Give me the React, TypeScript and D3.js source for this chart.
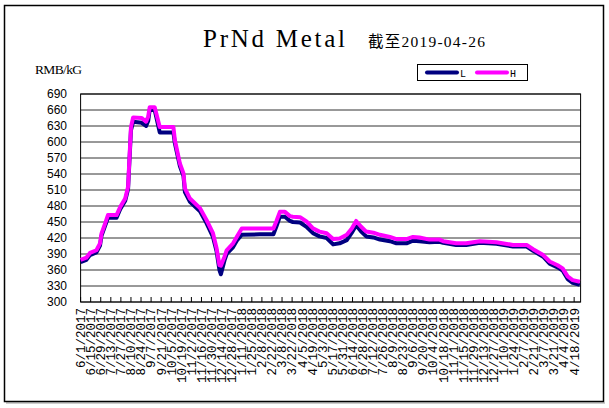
import React from "react";
import * as d3 from "d3";

const dates: string[] = [
  "2017-06-01","2017-06-09","2017-06-14","2017-06-23","2017-06-28","2017-06-30","2017-07-05","2017-07-09",
  "2017-07-21","2017-07-26","2017-08-02","2017-08-06","2017-08-10","2017-08-13","2017-08-25","2017-08-31",
  "2017-09-03","2017-09-05","2017-09-12","2017-09-19","2017-10-08","2017-10-10","2017-10-17","2017-10-22",
  "2017-10-24","2017-10-31","2017-11-14","2017-11-23","2017-12-02","2017-12-07","2017-12-11","2017-12-13",
  "2017-12-18","2017-12-21","2017-12-30","2018-01-04","2018-01-11","2018-02-05","2018-02-24","2018-02-28",
  "2018-03-05","2018-03-12","2018-03-19","2018-03-23","2018-04-02","2018-04-11","2018-04-20","2018-04-29",
  "2018-05-09","2018-05-18","2018-05-27","2018-06-06","2018-06-13","2018-06-19","2018-06-26","2018-07-03",
  "2018-07-13","2018-07-22","2018-08-05","2018-08-14","2018-08-28","2018-09-06","2018-09-15","2018-09-29",
  "2018-10-13","2018-10-18","2018-11-05","2018-11-19","2018-12-08","2018-12-31","2019-01-23","2019-02-11",
  "2019-02-20","2019-03-06","2019-03-15","2019-03-26","2019-04-02","2019-04-09","2019-04-16","2019-04-26",
];

const hValues: number[] = [
  379,383,392,397,410,428,447,463,
  463,478,494,516,628,646,645,638,
  648,665,665,628,628,604,560,541,
  513,494,476,454,429,401,369,368,
  385,397,410,422,438,438,438,451,
  469,469,461,460,459,451,438,432,
  429,418,419,426,438,452,441,432,
  430,426,422,418,418,422,421,417,
  417,414,410,410,414,412,407,407,
  399,388,376,369,363,348,341,338,
];

const lValues: number[] = [
  375,379,388,393,406,424,443,458,
  458,474,490,512,622,638,636,630,
  640,660,660,618,618,598,555,536,
  506,488,470,448,422,395,360,352,
  378,390,403,415,426,427,427,441,
  460,460,452,450,449,441,429,423,
  420,408,410,416,430,444,432,423,
  421,417,414,410,410,415,414,412,
  413,411,407,407,411,409,404,404,
  396,385,372,365,359,343,336,332,
];

const xTickLabels: string[] = [
  "6/1/2017","6/15/2017","6/29/2017","7/13/2017","7/27/2017","8/10/2017","8/24/2017","9/7/2017",
  "9/21/2017","10/5/2017","10/19/2017","11/2/2017","11/16/2017","11/30/2017","12/14/2017","12/28/2017",
  "1/11/2018","1/25/2018","2/8/2018","2/22/2018","3/8/2018","3/22/2018","4/5/2018","4/19/2018",
  "5/3/2018","5/17/2018","5/31/2018","6/14/2018","6/28/2018","7/12/2018","7/26/2018","8/9/2018",
  "8/23/2018","9/6/2018","9/20/2018","10/4/2018","10/18/2018","11/1/2018","11/15/2018","11/29/2018",
  "12/13/2018","12/27/2018","1/10/2019","1/24/2019","2/7/2019","2/21/2019","3/7/2019","3/21/2019",
  "4/4/2019","4/18/2019",
];

const yTicks: number[] = [300,330,360,390,420,450,480,510,540,570,600,630,660,690];

const seriesNames = ["L", "H"];
const seriesColors = ["#000080", "#FF00FF"];

const titleText = "PrNd Metal";
const subtitleText = "截至2019-04-26";
const unitText = "RMB/kG";

export default function App() {
  const left = 80.6, right = 580.6, top = 94, bottom = 302;
  const parse = d3.timeParse("%Y-%m-%d");
  const parseLabel = d3.timeParse("%m/%d/%Y");
  const x = d3
    .scaleTime()
    .domain([parse("2017-06-01") as Date, parse("2019-04-27") as Date])
    .range([left, right]);
  const y = d3.scaleLinear().domain([300, 690]).range([bottom, top]);

  const makeLine = (vals: number[]) =>
    d3
      .line<number>()
      .x((_, i) => x(parse(dates[i]) as Date))
      .y((v) => y(v))(vals) as string;

  const tickXs = xTickLabels.map((t) => x(parseLabel(t) as Date));

  return (
    <svg
      width={609}
      height={408}
      style={{ position: "absolute", left: 0, top: 0, background: "#fff" }}
    >
      <rect x={0} y={0} width={609} height={408} fill="#fff" />
      {/* outer frame */}
      <line x1={6} y1={403} x2={605} y2={403} stroke="#bbb" strokeWidth={1.5} />
      <rect x={4.5} y={5.5} width={599} height={396} fill="none" stroke="#000" strokeWidth={1.5} />

      {/* title */}
      <text
        x={203}
        y={47}
        fontFamily="'Liberation Serif', 'Times New Roman', serif"
        fontSize={25}
        textLength={142}
        lengthAdjust="spacing"
        fill="#000"
      >
        {titleText}
      </text>
      <text
        x={368}
        y={47}
        fontFamily="'Liberation Serif', 'Noto Sans CJK SC', serif"
        fontSize={15.5}
        textLength={117}
        lengthAdjust="spacing"
        fill="#000"
      >
        {subtitleText}
      </text>
      <text
        x={35}
        y={74}
        fontFamily="'Liberation Serif', serif"
        fontSize={13.5}
        textLength={47}
        lengthAdjust="spacing"
        fill="#000"
      >
        {unitText}
      </text>

      {/* gridlines */}
      {yTicks.map((t) => (
        <line key={t} x1={left} x2={right} y1={y(t)} y2={y(t)} stroke="#333" strokeWidth={1} />
      ))}
      {/* y labels */}
      {yTicks.map((t) => (
        <text
          key={"yl" + t}
          x={67}
          y={y(t)}
          dy="0.35em"
          textAnchor="end"
          fontFamily="'Liberation Sans', Arial, sans-serif"
          fontSize={12}
          fill="#000"
        >
          {t}
        </text>
      ))}

      {/* plot frame */}
      <rect x={left} y={top} width={right - left} height={bottom - top} fill="none" stroke="#000" strokeWidth={1} />

      {/* x ticks */}
      {tickXs.map((tx, i) => (
        <line key={"xt" + i} x1={tx} x2={tx} y1={bottom} y2={bottom - 5} stroke="#000" strokeWidth={1} />
      ))}
      {/* x labels */}
      {xTickLabels.map((t, i) => (
        <text
          key={"xl" + i}
          transform={`translate(${tickXs[i]},${bottom + 6}) rotate(-90)`}
          textAnchor="end"
          dy="0.35em"
          fontFamily="'Liberation Mono', monospace"
          fontSize={12.5}
          fill="#000"
        >
          {t}
        </text>
      ))}

      {/* series */}
      <path d={makeLine(lValues)} fill="none" stroke={seriesColors[0]} strokeWidth={4} strokeLinejoin="round" />
      <path d={makeLine(hValues)} fill="none" stroke={seriesColors[1]} strokeWidth={4} strokeLinejoin="round" />

      {/* legend */}
      <rect x={417.5} y={64.5} width={110} height={16} fill="#fff" stroke="#000" strokeWidth={1} />
      <line x1={427} x2={457} y1={72.5} y2={72.5} stroke={seriesColors[0]} strokeWidth={4} strokeLinecap="round" />
      <text x={460} y={76.5} fontFamily="'Liberation Mono', monospace" fontSize={10} fill="#000">
        {seriesNames[0]}
      </text>
      <line x1={477} x2={507} y1={72.5} y2={72.5} stroke={seriesColors[1]} strokeWidth={4} strokeLinecap="round" />
      <text x={510} y={76.5} fontFamily="'Liberation Mono', monospace" fontSize={10} fill="#000">
        {seriesNames[1]}
      </text>
    </svg>
  );
}
